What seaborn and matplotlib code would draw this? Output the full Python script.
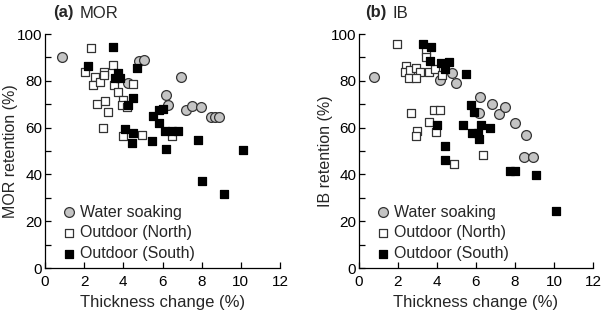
import matplotlib
matplotlib.use("Agg")
import matplotlib.pyplot as plt
import seaborn as sns
import pandas as pd

# ---- data ----
mor_ws_x = [0.85, 4.81, 5.07, 4.22, 6.94, 6.17, 6.26, 7.19, 7.53, 7.99, 8.47, 8.67, 8.88]
mor_ws_y = [90.0, 88.5, 88.9, 79.2, 81.8, 73.9, 69.7, 67.5, 69.2, 68.7, 64.7, 64.4, 64.4]
mor_n_x = [2.33, 2.04, 2.55, 2.43, 2.81, 3.03, 3.03, 3.49, 3.52, 3.74, 4.47, 2.64, 3.06,
           3.23, 3.96, 3.91, 4.17, 2.98, 3.96, 4.93, 6.46]
mor_n_y = [94.2, 83.9, 81.8, 78.2, 79.6, 83.9, 82.5, 86.8, 78.2, 75.4, 78.5, 70.1, 71.5,
           66.8, 71.8, 69.7, 68.9, 59.8, 56.5, 56.8, 56.4]
mor_s_x = [3.49, 2.21, 3.74, 3.57, 3.83, 4.68, 4.51, 4.25, 4.08, 4.47, 4.42, 5.44, 6.17,
           5.53, 5.83, 6.04, 5.83, 6.12, 6.46, 6.77, 7.82, 10.12, 8.0, 9.15]
mor_s_y = [94.6, 86.5, 83.5, 81.1, 81.1, 85.3, 72.5, 69.7, 59.3, 57.6, 53.6, 54.3, 51.0,
           65.1, 67.5, 67.8, 61.8, 58.7, 58.7, 58.7, 54.7, 50.4, 37.3, 31.6]

ib_ws_x = [0.78, 4.13, 4.75, 4.97, 6.22, 6.14, 6.82, 7.19, 7.47, 8.0, 8.56, 8.47, 8.93]
ib_ws_y = [81.8, 80.2, 83.5, 78.9, 73.0, 66.4, 70.1, 66.0, 68.9, 61.8, 57.0, 47.4, 47.3]
ib_n_x = [1.96, 2.40, 2.35, 2.60, 2.90, 3.15, 2.57, 2.91, 3.45, 3.42, 3.59, 3.88, 4.27,
          2.69, 2.97, 2.91, 3.59, 3.84, 4.13, 3.93, 6.34, 4.86]
ib_n_y = [95.7, 86.5, 83.9, 84.6, 85.3, 83.9, 81.1, 81.4, 92.9, 90.3, 83.6, 84.9, 82.5,
          66.1, 58.7, 56.4, 62.3, 67.5, 67.5, 58.3, 48.3, 44.4]
ib_s_x = [3.30, 3.69, 3.62, 4.22, 4.61, 4.39, 5.47, 5.76, 5.90, 3.99, 5.35, 5.78, 6.08,
          6.14, 6.28, 6.72, 4.39, 4.39, 7.75, 8.02, 9.10, 10.09]
ib_s_y = [95.8, 94.6, 88.4, 87.5, 88.0, 85.0, 83.0, 69.5, 66.8, 61.1, 61.2, 57.6, 57.6,
          55.2, 61.2, 59.7, 52.2, 46.2, 41.6, 41.6, 39.7, 24.4]

series_names = ["Water soaking", "Outdoor (North)", "Outdoor (South)"]
x_ticks = [0, 2, 4, 6, 8, 10, 12]
y_ticks = list(range(0, 101, 10))
y_labels = [str(v) if v % 20 == 0 else "" for v in y_ticks]

sns.set_style("ticks")
plt.rcParams["font.family"] = ["Liberation Sans", "DejaVu Sans"]

fig = plt.figure(figsize=(6.02, 3.13), dpi=100)
ax_a = fig.add_axes([45/602, 1-268/313, 235/602, 234/313])
ax_b = fig.add_axes([359/602, 1-268/313, 234/602, 234/313])

styles = [
    dict(marker="o", s=50, facecolor="#c4c4c4", edgecolor="#333333", linewidth=0.9),
    dict(marker="s", s=38, facecolor="white", edgecolor="#333333", linewidth=0.9),
    dict(marker="s", s=38, facecolor="black", edgecolor="black", linewidth=0.9),
]

def panel(ax, xs, ys, ylabel):
    for (x, y), name, st in zip(zip(xs, ys), series_names, styles):
        df = pd.DataFrame({"x": x, "y": y})
        sns.scatterplot(data=df, x="x", y="y", ax=ax, label=name, clip_on=False,
                        zorder=3, **st)
    ax.set_xlim(0, 12)
    ax.set_ylim(0, 100)
    ax.set_xticks(x_ticks)
    ax.set_yticks(y_ticks)
    ax.set_yticklabels(y_labels)
    ax.tick_params(direction="in", length=4, width=0.9, labelsize=11, colors="black")
    ax.tick_params(axis="x", pad=5)
    ax.tick_params(axis="y", pad=2)
    for sp in ["top", "right"]:
        ax.spines[sp].set_visible(False)
    for sp in ["left", "bottom"]:
        ax.spines[sp].set_linewidth(0.9)
        ax.spines[sp].set_color("black")
    ax.set_xlabel("Thickness change (%)", fontsize=12, labelpad=4)
    ax.set_ylabel(ylabel, fontsize=11.5)
    ax.legend(loc="lower left", bbox_to_anchor=(0.02, -0.01), frameon=False,
              fontsize=11.5, handletextpad=0.1, labelspacing=0.35,
              borderaxespad=0.2, handlelength=1.2, markerscale=1.0)

panel(ax_a, [mor_ws_x, mor_n_x, mor_s_x], [mor_ws_y, mor_n_y, mor_s_y], "MOR retention (%)")
panel(ax_b, [ib_ws_x, ib_n_x, ib_s_x], [ib_ws_y, ib_n_y, ib_s_y], "IB retention (%)")

ax_a.yaxis.set_label_coords(-0.115, 0.5)
ax_b.yaxis.set_label_coords(-0.11, 0.5)

fig.text(53/602, 1-13/313, "(a)", fontsize=12, fontweight="bold", va="center")
fig.text(80/602, 1-13/313, "MOR", fontsize=12, va="center")
fig.text(365/602, 1-13/313, "(b)", fontsize=12, fontweight="bold", va="center")
fig.text(392/602, 1-13/313, "IB", fontsize=12, va="center")

fig.savefig("out.png", dpi=100)
